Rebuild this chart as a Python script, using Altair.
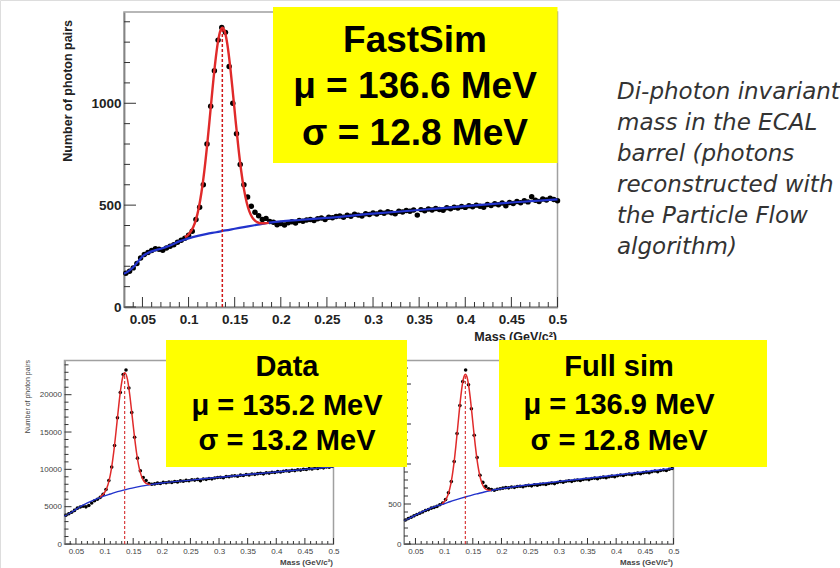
import altair as alt
import pandas as pd

W, H = 840, 568

# ---------------- FastSim (top panel) ----------------
TOP_MASS = [
    0.032, 0.036, 0.040, 0.044, 0.048, 0.052, 0.056, 0.060, 0.064, 0.068,
    0.072, 0.076, 0.080, 0.084, 0.088, 0.092, 0.096, 0.100, 0.104, 0.108,
    0.112, 0.116, 0.120, 0.124, 0.128, 0.132, 0.136, 0.140, 0.144, 0.148,
    0.152, 0.156, 0.160, 0.164, 0.168, 0.172, 0.176, 0.180, 0.184, 0.188,
    0.192, 0.196, 0.200, 0.204, 0.208, 0.212, 0.216, 0.220, 0.224, 0.228,
    0.232, 0.236, 0.240, 0.244, 0.248, 0.252, 0.256, 0.260, 0.264, 0.268,
    0.272, 0.276, 0.280, 0.284, 0.288, 0.292, 0.296, 0.300, 0.304, 0.308,
    0.312, 0.316, 0.320, 0.324, 0.328, 0.332, 0.336, 0.340, 0.344, 0.348,
    0.352, 0.356, 0.360, 0.364, 0.368, 0.372, 0.376, 0.380, 0.384, 0.388,
    0.392, 0.396, 0.400, 0.404, 0.408, 0.412, 0.416, 0.420, 0.424, 0.428,
    0.432, 0.436, 0.440, 0.444, 0.448, 0.452, 0.456, 0.460, 0.464, 0.468,
    0.472, 0.476, 0.480, 0.484, 0.488, 0.492, 0.496, 0.500,
]
TOP_COUNTS = [
    166, 176, 192, 214, 240, 258, 268, 277, 286, 283,
    279, 290, 298, 306, 318, 328, 338, 352, 372, 430,
    490, 600, 800, 985, 1160, 1310, 1372, 1348, 1180, 1000,
    850, 700, 600, 540, 495, 465, 448, 430, 435, 420,
    416, 404, 410, 403, 414, 418, 412, 425, 421, 427,
    430, 424, 433, 437, 430, 441, 438, 444, 447, 440,
    450, 446, 455, 451, 447, 458, 454, 462, 456, 465,
    460, 468, 463, 458, 470, 466, 474, 470, 476, 451,
    478, 472, 481, 476, 484, 479, 475, 487, 482, 490,
    486, 493, 489, 497, 492, 500, 495, 490, 503, 498,
    507, 502, 510, 497, 513, 508, 518, 512, 522, 516,
    541, 524, 518, 530, 525, 534, 528, 522,
]
TOP_BG_MASS = [0.03, 0.035, 0.04, 0.045, 0.05, 0.055, 0.06, 0.065, 0.07, 0.08,
               0.09, 0.10, 0.11, 0.12, 0.13, 0.14, 0.15, 0.16, 0.17, 0.18,
               0.19, 0.20, 0.22, 0.25, 0.30, 0.35, 0.40, 0.45, 0.50]
TOP_BG = [163, 176, 195, 222, 248, 263, 273, 280, 286, 302,
          322, 337, 349, 359, 367, 376, 384, 392, 400, 408,
          415, 420, 427, 437, 458, 476, 495, 513, 528]
TOP_FIT_MASS = [0.096, 0.099, 0.102, 0.105, 0.108, 0.111, 0.114, 0.117, 0.120, 0.123,
                0.126, 0.129, 0.132, 0.1345, 0.1366, 0.139, 0.142, 0.145, 0.148, 0.151,
                0.154, 0.157, 0.160, 0.163, 0.166, 0.169, 0.172, 0.175, 0.178, 0.182, 0.187]
TOP_FIT = [343, 352, 368, 392, 429, 485, 563, 665, 789, 928,
           1072, 1203, 1305, 1356, 1371, 1356, 1291, 1185, 1054, 915,
           783, 670, 580, 513, 468, 440, 424, 415, 411, 411, 413]
TOP_MU, TOP_PEAK = 0.1366, 1371

# ---------------- Data / Full sim (bottom panels) ----------------
BOTTOM_MASS = [
    0.0325, 0.0375, 0.0425, 0.0475, 0.0525, 0.0575, 0.0625, 0.0675, 0.0725, 0.0775,
    0.0825, 0.0875, 0.0925, 0.0975, 0.1025, 0.1075, 0.1125, 0.1175, 0.1225, 0.1275,
    0.1325, 0.1375, 0.1425, 0.1475, 0.1525, 0.1575, 0.1625, 0.1675, 0.1725, 0.1775,
    0.1825, 0.1875, 0.1925, 0.1975, 0.2025, 0.2075, 0.2125, 0.2175, 0.2225, 0.2275,
    0.2325, 0.2375, 0.2425, 0.2475, 0.2525, 0.2575, 0.2625, 0.2675, 0.2725, 0.2775,
    0.2825, 0.2875, 0.2925, 0.2975, 0.3025, 0.3075, 0.3125, 0.3175, 0.3225, 0.3275,
    0.3325, 0.3375, 0.3425, 0.3475, 0.3525, 0.3575, 0.3625, 0.3675, 0.3725, 0.3775,
    0.3825, 0.3875, 0.3925, 0.3975, 0.4025, 0.4075, 0.4125, 0.4175, 0.4225, 0.4275,
    0.4325, 0.4375, 0.4425, 0.4475, 0.4525, 0.4575, 0.4625, 0.4675, 0.4725, 0.4775,
    0.4825, 0.4875, 0.4925, 0.4975,
]
DATA_COUNTS = [
    3850, 4050, 4250, 4500, 4800, 4950, 5050, 4980, 5150, 5500,
    5800, 6000, 6250, 6650, 7300, 8500, 10300, 13200, 16900, 20300,
    22700, 23300, 20900, 17600, 14300, 11500, 9800, 8900, 8500, 8100,
    8000, 8050, 8150, 8100, 8250, 8200, 8300, 8250, 8380, 8320,
    8450, 8400, 8520, 8470, 8600, 8560, 8650, 8480, 8700, 8660,
    8780, 8730, 8850, 8900, 8950, 8880, 9050, 9000, 9100, 9150,
    9080, 9220, 9180, 9300, 9250, 9380, 9330, 9420, 9480, 9400,
    9550, 9500, 9620, 9580, 9700, 9650, 9750, 9820, 9760, 9880,
    9830, 9950, 9900, 10020, 9980, 10100, 10050, 10180, 10120, 10250,
    10200, 10320, 10280, 10400,
]
FULL_COUNTS = [
    300, 318, 335, 352, 368, 385, 400, 418, 430, 448,
    458, 470, 490, 512, 555, 640, 780, 1030, 1380, 1730,
    2030, 2175, 1990, 1690, 1360, 1080, 860, 770, 720, 690,
    680, 672, 685, 690, 698, 705, 702, 712, 708, 718,
    722, 716, 728, 733, 727, 740, 736, 745, 750, 744,
    756, 762, 755, 768, 780, 772, 784, 790, 783, 795,
    800, 794, 806, 812, 805, 818, 824, 816, 830, 836,
    828, 842, 848, 840, 855, 862, 856, 868, 874, 866,
    880, 886, 878, 892, 898, 890, 905, 912, 904, 918,
    925, 918, 934, 945,
]
BOTTOM_BG_MASS = [0.03, 0.04, 0.05, 0.06, 0.07, 0.08, 0.09, 0.10, 0.11, 0.12,
                  0.13, 0.14, 0.15, 0.16, 0.17, 0.18, 0.20, 0.25, 0.30, 0.35,
                  0.40, 0.45, 0.50]
DATA_BG = [3750, 4150, 4650, 5100, 5500, 5850, 6150, 6450, 6700, 6950,
           7150, 7350, 7520, 7680, 7820, 7950, 8180, 8550, 8950, 9300,
           9650, 10000, 10350]
FULL_BG = [291, 325, 362, 398, 430, 458, 482, 503, 528, 551,
           573, 594, 614, 632, 650, 666, 692, 742, 782, 822,
           862, 904, 946]
DATA_FIT_MASS = [0.092, 0.096, 0.100, 0.104, 0.108, 0.112, 0.116, 0.120, 0.124, 0.128,
                 0.132, 0.1352, 0.140, 0.144, 0.148, 0.152, 0.156, 0.160, 0.164, 0.168,
                 0.172, 0.176, 0.180]
DATA_FIT = [6285, 6520, 6900, 7510, 8530, 10100, 12300, 15040, 17980, 20640,
            22435, 22930, 22045, 19990, 17300, 14545, 12157, 10368, 9194, 8506,
            8162, 8022, 7975]
DATA_MU, DATA_PEAK = 0.1352, 22930
FULL_FIT_MASS = [0.0963, 0.0993, 0.1023, 0.1053, 0.1083, 0.1113, 0.1143, 0.1173, 0.1203, 0.1233,
                 0.1263, 0.1293, 0.1323, 0.1348, 0.1369, 0.1393, 0.1423, 0.1453, 0.1483, 0.1513,
                 0.1543, 0.1573, 0.1603, 0.1633, 0.1663, 0.1693, 0.1723, 0.1753, 0.1783, 0.1820]
FULL_FIT = [505, 523, 549, 589, 650, 739, 861, 1020, 1214, 1432,
            1655, 1858, 2017, 2097, 2122, 2100, 2003, 1843, 1643, 1432,
            1232, 1059, 922, 822, 754, 712, 688, 677, 672, 673]
FULL_MU, FULL_PEAK = 0.1369, 2122

# ---------------- axis ticks ----------------
X_MAJOR = [0.05, 0.1, 0.15, 0.2, 0.25, 0.3, 0.35, 0.4, 0.45, 0.5]
X_MINOR = [0.04, 0.06, 0.07, 0.08, 0.09, 0.11, 0.12, 0.13, 0.14, 0.16, 0.17, 0.18, 0.19,
           0.21, 0.22, 0.23, 0.24, 0.26, 0.27, 0.28, 0.29, 0.31, 0.32, 0.33, 0.34,
           0.36, 0.37, 0.38, 0.39, 0.41, 0.42, 0.43, 0.44, 0.46, 0.47, 0.48, 0.49]
TOP_Y_MAJOR = [0, 500, 1000]
TOP_Y_MINOR = [100, 200, 300, 400, 600, 700, 800, 900, 1100, 1200, 1300, 1400]
DATA_Y_MAJOR = [0, 5000, 10000, 15000, 20000]
DATA_Y_MINOR = [1000, 2000, 3000, 4000, 6000, 7000, 8000, 9000, 11000, 12000, 13000, 14000,
                16000, 17000, 18000, 19000, 21000, 22000, 23000, 24000]
FULL_Y_MAJOR = [0, 500, 1000, 1500, 2000]
FULL_Y_MINOR = [100, 200, 300, 400, 600, 700, 800, 900, 1100, 1200, 1300, 1400,
                1600, 1700, 1800, 1900, 2100, 2200]

# ---------------- texts ----------------
Y_TITLE = "Number of photon pairs"
X_TITLE = "Mass (GeV/c²)"
BOX_TOP = ["FastSim", "μ = 136.6 MeV", "σ = 12.8 MeV"]
BOX_DATA = ["Data", "μ = 135.2 MeV", "σ = 13.2 MeV"]
BOX_FULL = ["Full sim", "μ = 136.9 MeV", "σ = 12.8 MeV"]
DESC = ["Di-photon invariant", "mass in the ECAL", "barrel (photons",
        "reconstructed with", "the Particle Flow", "algorithm)"]

FONT = "Liberation Sans"


def panel(mass, counts, bg_m, bg_v, fit_m, fit_v, mu, peak, st):
    xs = alt.Scale(domain=[0.03, 0.5], range=st["xr"], nice=False, zero=False)
    ys = alt.Scale(domain=st["ydom"], range=st["yr"], nice=False, zero=False)
    xa = alt.Axis(orient="bottom", offset=st["yr"][0] - H, values=X_MAJOR, format="~g",
                  ticks=False, grid=False, domain=True, domainColor="#333",
                  domainWidth=st["dw"], labelFont=FONT, labelFontSize=st["lfs"],
                  labelFontWeight=st["lfw"], labelColor=st["lc"], labelPadding=st["lpx"],
                  labelFlush=False, labelOverlap=False, title=None)
    ya = alt.Axis(orient="left", offset=-st["xr"][0], values=st["ymaj"], format="d",
                  ticks=False, grid=False, domain=True, domainColor="#333",
                  domainWidth=st["dw"], labelFont=FONT, labelFontSize=st["lfs"],
                  labelFontWeight=st["lfw"], labelColor=st["lc"], labelPadding=st["lpy"],
                  labelFlush=False, labelOverlap=False, title=None)

    def X(f):
        return alt.X(f, type="quantitative", scale=xs, axis=xa)

    def Y(f):
        return alt.Y(f, type="quantitative", scale=ys, axis=ya)

    frame_df = pd.DataFrame({"m0": [0.03], "m1": [0.5], "n0": [st["ydom"][0]], "n1": [st["ydom"][1]]})
    frame = alt.Chart(frame_df).mark_rect(fillOpacity=0, stroke="#a0a0a0", strokeWidth=st["fw"]).encode(
        x=X("m0"), x2="m1", y=Y("n0"), y2="n1")

    pts = alt.Chart(pd.DataFrame({"m": mass, "n": counts})).mark_circle(
        size=st["ps"], color="black", opacity=1).encode(x=X("m"), y=Y("n"))
    blue = alt.Chart(pd.DataFrame({"m": bg_m, "n": bg_v})).mark_line(
        color="#2233cc", strokeWidth=st["bw"], interpolate="monotone").encode(x=X("m"), y=Y("n"))
    red = alt.Chart(pd.DataFrame({"m": fit_m, "n": fit_v})).mark_line(
        color="#e02a2a", strokeWidth=st["rw"], interpolate="monotone").encode(x=X("m"), y=Y("n"))
    dash = alt.Chart(pd.DataFrame({"m": [mu], "n0": [0], "n1": [peak]})).mark_rule(
        color="#d01515", strokeWidth=st["dashw"], strokeDash=[3, 2]).encode(x=X("m"), y=Y("n0"), y2="n1")

    y0 = st["yr"][0]
    x0 = st["xr"][0]
    xt_maj = alt.Chart(pd.DataFrame({"m": X_MAJOR})).mark_rule(color="#333", strokeWidth=1).encode(
        x=X("m"), y=alt.value(y0), y2=alt.value(y0 - st["txM"]))
    xt_min = alt.Chart(pd.DataFrame({"m": X_MINOR})).mark_rule(color="#333", strokeWidth=1).encode(
        x=X("m"), y=alt.value(y0), y2=alt.value(y0 - st["txm"]))
    yt_maj = alt.Chart(pd.DataFrame({"n": st["ymaj"]})).mark_rule(color="#333", strokeWidth=1).encode(
        y=Y("n"), x=alt.value(x0), x2=alt.value(x0 + st["tyM"]))
    yt_min = alt.Chart(pd.DataFrame({"n": st["ymin"]})).mark_rule(color="#333", strokeWidth=1).encode(
        y=Y("n"), x=alt.value(x0), x2=alt.value(x0 + st["tym"]))

    return alt.layer(frame, pts, blue, red, dash, xt_maj, xt_min, yt_maj, yt_min)


TOP_STYLE = dict(xr=[124, 557.5], yr=[307, 12], ydom=[0, 1448], ymaj=TOP_Y_MAJOR, ymin=TOP_Y_MINOR,
                 dw=1.5, fw=1.5, lfs=13.5, lfw="bold", lc="#222", lpx=5, lpy=3, ps=30, bw=2.2, rw=2.4,
                 dashw=1.5, txM=10, txm=5, tyM=12, tym=6)
DATA_STYLE = dict(xr=[64.5, 333.5], yr=[544, 360.5], ydom=[0, 24580], ymaj=DATA_Y_MAJOR, ymin=DATA_Y_MINOR,
                  dw=1, fw=1.5, lfs=8, lfw="normal", lc="#444", lpx=3, lpy=3, ps=13, bw=1.4, rw=1.5,
                  dashw=1, txM=6, txm=3, tyM=7, tym=4)
FULL_STYLE = dict(DATA_STYLE, xr=[404, 673.5], ydom=[0, 2294], ymaj=FULL_Y_MAJOR, ymin=FULL_Y_MINOR)

top = panel(TOP_MASS, TOP_COUNTS, TOP_BG_MASS, TOP_BG, TOP_FIT_MASS, TOP_FIT, TOP_MU, TOP_PEAK, TOP_STYLE)
data = panel(BOTTOM_MASS, DATA_COUNTS, BOTTOM_BG_MASS, DATA_BG, DATA_FIT_MASS, DATA_FIT, DATA_MU, DATA_PEAK, DATA_STYLE)
full = panel(BOTTOM_MASS, FULL_COUNTS, BOTTOM_BG_MASS, FULL_BG, FULL_FIT_MASS, FULL_FIT, FULL_MU, FULL_PEAK, FULL_STYLE)

ONE = pd.DataFrame({"k": [0]})


def label(text, x, y, size, weight="normal", color="black", align="center", angle=0,
          baseline="alphabetic", font=FONT, style="normal", line_height=None):
    kw = dict(font=font, fontSize=size, fontWeight=weight, color=color, align=align,
              baseline=baseline, fontStyle=style, angle=angle)
    if line_height is not None:
        kw["lineHeight"] = line_height
    return alt.Chart(ONE).mark_text(**kw).encode(x=alt.value(x), y=alt.value(y), text=alt.value(text))


def box(x1, x2, y1, y2):
    return alt.Chart(ONE).mark_rect(color="#ffff00", opacity=1).encode(
        x=alt.value(x1), x2=alt.value(x2), y=alt.value(y1), y2=alt.value(y2))


titles = [
    label(X_TITLE, 557, 341, 12.5, "bold", "#222", align="right"),
    label(Y_TITLE, 68, 20, 12.5, "bold", "#222", align="right", angle=270, baseline="middle"),
    label(X_TITLE, 333, 565, 8, "bold", "#444", align="right"),
    label(Y_TITLE, 27.5, 360, 7, "normal", "#444", align="right", angle=270, baseline="middle"),
    label(X_TITLE, 673, 565, 8, "bold", "#444", align="right"),
    label(Y_TITLE, 368, 360, 7, "normal", "#444", align="right", angle=270, baseline="middle"),
]
boxes = [box(273, 557.5, 7, 163), box(166, 407, 340, 467), box(499, 767, 340, 467)]
box_texts = []
for t, yy in zip(BOX_TOP, [52, 98, 145]):
    box_texts.append(label(t, 415, yy, 37, "bold"))
for t, yy in zip(BOX_DATA, [376, 415, 450]):
    box_texts.append(label(t, 287, yy, 29, "bold"))
for t, yy in zip(BOX_FULL, [376, 414, 450]):
    box_texts.append(label(t, 619, yy, 29, "bold"))
desc = label(DESC, 617, 99, 23, "normal", "#333", align="left", font="DejaVu Sans",
             style="italic", line_height=31)

chart = alt.layer(top, data, full, *titles, *boxes, *box_texts, desc).resolve_scale(
    x="independent", y="independent"
).properties(
    width=W, height=H, padding=0, autosize=alt.AutoSizeParams(type="none")
).configure_view(strokeWidth=0).configure(background="white")

chart.save("out.html", embed_options={"renderer": "svg", "actions": False})
